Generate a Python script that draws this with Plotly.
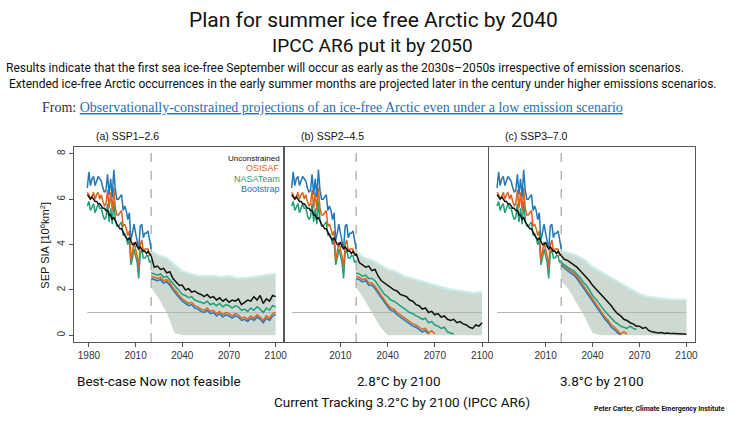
import plotly.graph_objects as go

# ---- data ----
HIST_YEARS = list(range(1979, 2021))
FUT_YEARS = list(range(2020, 2101, 2))
BAND_YEARS = list(range(2020, 2101, 5))

# observations 1979-2020 (same in every panel)
hist_bootstrap = [6.5, 7.2, 6.6, 6.9, 7.0, 6.6, 6.8, 7.0, 6.9, 6.8, 6.5, 6.3, 6.4, 7.1,
                  6.2, 6.9, 6.1, 7.3, 6.4, 6.0, 6.0, 6.1, 6.2, 5.5, 5.7, 5.5, 5.1, 5.4,
                  4.2, 4.5, 4.9, 4.5, 4.2, 3.8, 4.8, 4.9, 4.3, 4.5, 4.5, 4.6, 4.2, 3.8]
hist_osisaf = [6.3, 6.2, 6.0, 6.1, 6.3, 6.0, 6.2, 6.3, 6.0, 6.2, 5.9, 5.7, 5.8, 6.4,
               5.6, 6.3, 5.5, 6.5, 5.6, 5.3, 5.3, 5.4, 5.5, 4.8, 4.9, 4.7, 4.4, 4.6,
               3.3, 3.7, 4.1, 3.8, 3.5, 3.0, 4.0, 4.2, 3.7, 3.8, 3.8, 3.8, 3.5, 3.6]
hist_nasateam = [5.7, 5.9, 5.5, 5.7, 5.8, 5.4, 5.6, 5.8, 5.6, 5.6, 5.3, 5.1, 5.2, 5.8,
                 5.0, 5.6, 4.9, 5.9, 5.1, 4.8, 4.8, 4.9, 5.0, 4.4, 4.5, 4.3, 4.0, 4.2,
                 3.1, 3.4, 3.8, 3.5, 3.2, 2.5, 3.6, 3.8, 3.4, 3.4, 3.5, 3.5, 3.2, 3.3]
hist_unconstrained = [6.2, 6.1, 6.0, 6.1, 6.0, 5.9, 5.9, 5.8, 5.8, 5.7, 5.6, 5.6, 5.5, 5.5,
                      5.3, 5.3, 5.1, 5.2, 5.0, 4.9, 4.8, 4.7, 4.7, 4.5, 4.4, 4.3, 4.2, 4.3,
                      4.1, 4.0, 4.0, 4.1, 3.9, 3.8, 3.9, 3.8, 3.7, 3.7, 3.6, 3.7, 3.6, 3.5]

# (a) SSP1-2.6
a_unconstrained = [3.5, 3.0, 3.05, 2.9, 2.95, 2.75, 2.8, 2.5, 2.35, 2.2, 2.2, 2.0, 2.05, 1.9,
                   1.95, 1.85, 1.8, 1.7, 1.8, 1.65, 1.7, 1.55, 1.65, 1.5, 1.6, 1.45, 1.55,
                   1.5, 1.6, 1.35, 1.45, 1.55, 1.5, 1.7, 1.55, 1.75, 1.4, 1.6, 1.5, 1.75, 1.7]
a_nasateam = [2.75, 2.7, 2.65, 2.7, 2.55, 2.6, 2.45, 2.3, 2.1, 1.95, 1.8, 1.75, 1.65, 1.7,
              1.55, 1.5, 1.45, 1.4, 1.5, 1.35, 1.4, 1.3, 1.4, 1.25, 1.35, 1.3, 1.2, 1.3,
              1.25, 1.1, 1.15, 1.05, 1.2, 1.1, 1.25, 1.15, 1.0, 1.2, 1.1, 1.3, 1.25]
a_osisaf = [2.6, 2.55, 2.5, 2.55, 2.4, 2.45, 2.3, 2.1, 1.9, 1.75, 1.6, 1.5, 1.4, 1.45,
            1.3, 1.25, 1.15, 1.1, 1.2, 1.05, 1.1, 0.95, 1.05, 0.9, 1.0, 0.95, 0.85, 0.95,
            0.9, 0.75, 0.8, 0.7, 0.85, 0.75, 0.9, 0.8, 0.65, 0.85, 0.75, 0.95, 1.0]
a_bootstrap = [2.5, 2.45, 2.4, 2.45, 2.3, 2.35, 2.2, 2.0, 1.8, 1.65, 1.5, 1.4, 1.3, 1.35,
               1.2, 1.15, 1.05, 1.0, 1.1, 0.95, 1.0, 0.85, 0.95, 0.8, 0.9, 0.85, 0.75, 0.85,
               0.8, 0.65, 0.7, 0.6, 0.75, 0.65, 0.8, 0.7, 0.55, 0.75, 0.65, 0.85, 0.9]
a_band_hi = [3.7, 3.5, 3.4, 3.1, 2.8, 2.7, 2.6, 2.6, 2.6, 2.55, 2.6, 2.5, 2.5, 2.55, 2.6, 2.65, 2.7]
a_band_lo = [2.1, 1.6, 1.0, 0.1, 0, 0, 0, 0, 0, 0, 0, 0, 0, 0, 0, 0, 0]

# (b) SSP2-4.5
b_unconstrained = [3.6, 3.2, 3.1, 3.0, 3.05, 2.85, 2.9, 2.6, 2.4, 2.3, 2.2, 2.1, 2.0, 1.95,
                   1.8, 1.75, 1.7, 1.55, 1.5, 1.35, 1.3, 1.15, 1.2, 1.0, 1.05, 0.9, 0.95,
                   0.8, 0.85, 0.7, 0.65, 0.7, 0.55, 0.6, 0.5, 0.45, 0.35, 0.3, 0.45, 0.4, 0.55]
b_nasateam = [2.75, 2.7, 2.6, 2.65, 2.5, 2.5, 2.4, 2.2, 1.95, 1.8, 1.7, 1.55, 1.5, 1.4,
              1.3, 1.2, 1.1, 1.0, 0.95, 0.85, 0.8, 0.7, 0.75, 0.55, 0.6, 0.45, 0.4, 0.3,
              0.35, 0.15, 0.1, 0.05, None, None, None, None, None, None, None, None, None]
b_osisaf = [2.6, 2.55, 2.45, 2.5, 2.3, 2.3, 2.15, 1.95, 1.7, 1.5, 1.35, 1.2, 1.15, 1.0,
            0.9, 0.8, 0.7, 0.6, 0.5, 0.45, 0.35, 0.25, 0.3, 0.1, 0.2, 0.05, None, None,
            None, None, None, None, None, None, None, None, None, None, None, None, None]
b_bootstrap = [2.5, 2.45, 2.35, 2.4, 2.2, 2.2, 2.05, 1.85, 1.6, 1.4, 1.25, 1.1, 1.05, 0.9,
               0.8, 0.7, 0.6, 0.5, 0.4, 0.35, 0.25, 0.15, 0.2, 0.05, None, None, None, None,
               None, None, None, None, None, None, None, None, None, None, None, None, None]
b_band_hi = [3.7, 3.4, 3.3, 3.1, 2.9, 2.8, 2.6, 2.5, 2.4, 2.3, 2.2, 2.1, 2.0, 1.95, 1.9, 1.85, 1.9]
b_band_lo = [2.1, 1.6, 1.0, 0.4, 0, 0, 0, 0, 0, 0, 0, 0, 0, 0, 0, 0, 0]

# (c) SSP3-7.0
c_unconstrained = [3.5, 3.35, 3.3, 3.2, 3.1, 3.0, 2.85, 2.7, 2.55, 2.4, 2.2, 2.05, 1.9, 1.75,
                   1.6, 1.45, 1.3, 1.1, 0.95, 0.85, 0.7, 0.65, 0.55, 0.5, 0.4, 0.4, 0.3,
                   0.35, 0.2, 0.15, 0.12, 0.1, 0.12, 0.08, 0.1, 0.07, 0.08, 0.06, 0.05, 0.05, 0.04]
c_nasateam = [3.2, 3.1, 3.0, 2.9, 2.85, 2.7, 2.55, 2.35, 2.2, 2.0, 1.75, 1.6, 1.4, 1.25,
              1.05, 0.9, 0.75, 0.6, 0.5, 0.4, 0.35, 0.3, 0.4, 0.3, 0.25, None, None, None,
              None, None, None, None, None, None, None, None, None, None, None, None, None]
c_osisaf = [3.2, 3.05, 2.95, 2.85, 2.75, 2.6, 2.4, 2.2, 2.0, 1.8, 1.55, 1.35, 1.15, 1.0,
            0.8, 0.65, 0.45, 0.35, 0.2, 0.05, 0.15, 0.05, None, None, None, None, None, None,
            None, None, None, None, None, None, None, None, None, None, None, None, None]
c_bootstrap = [3.1, 2.95, 2.85, 2.75, 2.65, 2.5, 2.3, 2.1, 1.9, 1.7, 1.45, 1.25, 1.05, 0.9,
               0.7, 0.55, 0.35, 0.25, 0.1, 0.02, None, None, None, None, None, None, None,
               None, None, None, None, None, None, None, None, None, None, None, None, None, None]
c_band_hi = [3.7, 3.6, 3.5, 3.3, 3.0, 2.8, 2.6, 2.4, 2.2, 2.0, 1.8, 1.7, 1.65, 1.6, 1.55, 1.55, 1.55]
c_band_lo = [2.4, 2.0, 1.4, 0.8, 0.1, 0, 0, 0, 0, 0, 0, 0, 0, 0, 0, 0, 0]

panel_titles = ["(a) SSP1\u20132.6", "(b) SSP2\u20134.5", "(c) SSP3\u20137.0"]
bottom_notes = ["Best-case Now not feasible", "2.8\u00b0C by 2100", "3.8\u00b0C by 2100"]
series_names = ["Unconstrained", "OSISAF", "NASATeam", "Bootstrap"]

BLACK, ORANGE, GREEN, BLUE = "#111111", "#d9661c", "#1f9e78", "#2477b8"

panels = [
    dict(unc=a_unconstrained, osi=a_osisaf, nasa=a_nasateam, boot=a_bootstrap,
         hi=a_band_hi, lo=a_band_lo),
    dict(unc=b_unconstrained, osi=b_osisaf, nasa=b_nasateam, boot=b_bootstrap,
         hi=b_band_hi, lo=b_band_lo),
    dict(unc=c_unconstrained, osi=c_osisaf, nasa=c_nasateam, boot=c_bootstrap,
         hi=c_band_hi, lo=c_band_lo),
]

W, H = 750, 422
def px(x):
    return x / W
def py(y):
    return 1 - y / H

x_domains = [(75, 285), (287, 492), (493, 701)]
x_ranges = [(1970.7, 2104.5), (1974.6, 2103.8), (1973.9, 2105.7)]
y_dom = [py(342), py(147)]

fig = go.Figure()

for i, p in enumerate(panels):
    xa = "x" if i == 0 else f"x{i + 1}"
    ya = "y" if i == 0 else f"y{i + 1}"
    # spread band
    fig.add_trace(go.Scatter(x=BAND_YEARS, y=p["lo"], mode="lines", line=dict(width=0),
                             xaxis=xa, yaxis=ya, showlegend=False, hoverinfo="skip"))
    fig.add_trace(go.Scatter(x=BAND_YEARS, y=p["hi"], mode="lines", fill="tonexty",
                             fillcolor="rgba(198,212,201,0.85)",
                             line=dict(width=3, color="rgba(195,234,232,0.7)"),
                             xaxis=xa, yaxis=ya, showlegend=False, hoverinfo="skip"))
    # 1 million km2 reference and 2020 divider
    fig.add_trace(go.Scatter(x=[1979, 2100], y=[1, 1], mode="lines",
                             line=dict(color="#b5b5b5", width=1),
                             xaxis=xa, yaxis=ya, showlegend=False, hoverinfo="skip"))
    fig.add_trace(go.Scatter(x=[2020, 2020], y=[-0.3, 8.3], mode="lines",
                             line=dict(color="#aaaaaa", width=1.3, dash="dash"),
                             xaxis=xa, yaxis=ya, showlegend=False, hoverinfo="skip"))
    # observation-based history
    for ys, col in [(hist_nasateam, GREEN), (hist_osisaf, ORANGE),
                    (hist_bootstrap, BLUE), (hist_unconstrained, BLACK)]:
        fig.add_trace(go.Scatter(x=HIST_YEARS, y=ys, mode="lines",
                                 line=dict(color=col, width=1.5),
                                 xaxis=xa, yaxis=ya, showlegend=False))
    # projections
    for key, col in [("boot", BLUE), ("osi", ORANGE), ("nasa", GREEN), ("unc", BLACK)]:
        fig.add_trace(go.Scatter(x=FUT_YEARS, y=p[key], mode="lines",
                                 line=dict(color=col, width=1.5),
                                 xaxis=xa, yaxis=ya, showlegend=False))

axis_common = dict(showline=True, mirror=True, linecolor="#555555", linewidth=1.2,
                   showgrid=False, zeroline=False, ticks="outside", ticklen=4,
                   tickcolor="#555555", tickfont=dict(size=10, color="#333333"))

layout = dict(
    width=W, height=H,
    margin=dict(l=0, r=0, t=0, b=0),
    paper_bgcolor="white", plot_bgcolor="white",
    font=dict(family="Liberation Sans, Arial, sans-serif", color="#222222"),
    showlegend=False,
)
for i in range(3):
    sfx = "" if i == 0 else str(i + 1)
    tickvals = [1980, 2010, 2040, 2070, 2100] if i == 0 else [2010, 2040, 2070, 2100]
    layout["xaxis" + sfx] = dict(axis_common, domain=[px(x_domains[i][0]), px(x_domains[i][1])],
                                 range=list(x_ranges[i]), tickvals=tickvals,
                                 anchor="y" + sfx)
    ya = dict(axis_common, domain=y_dom, range=[-0.3, 8.3], anchor="x" + sfx)
    if i == 0:
        ya.update(tickvals=[0, 2, 4, 6, 8], tickangle=-90)
    else:
        ya.update(showticklabels=False, ticks="")
    layout["yaxis" + sfx] = ya
fig.update_layout(**layout)

ann = []
def text(x, y, s, size, xanchor="center", family=None, color="#111111", angle=0):
    f = dict(size=size, color=color)
    if family:
        f["family"] = family
    ann.append(dict(x=px(x), y=py(y), xref="paper", yref="paper", text=s, showarrow=False,
                    xanchor=xanchor, yanchor="middle", font=f, textangle=angle))

SLIDE = "Roboto, Liberation Sans, sans-serif"
text(377, 20, "Plan for summer ice free Arctic by 2040", 21, family=SLIDE)
text(376, 45, "IPCC AR6 put it by 2050", 19, family=SLIDE)
text(4, 68, "Results indicate that the first sea ice-free September will occur as early as the "
     "2030s\u20132050s irrespective of emission scenarios.", 12, xanchor="left", family=SLIDE)
text(7, 84, "Extended ice-free Arctic occurrences in the early summer months are projected later "
     "in the century under higher emissions scenarios.", 12, xanchor="left", family=SLIDE)
text(40, 107, "<span style='color:#333333'>From: </span><span style='color:#1f6fae'><u>"
     "Observationally-constrained projections of an ice-free Arctic even under a low "
     "emission scenario</u></span>", 14, xanchor="left", family="Liberation Serif, serif")

for i, t in enumerate(panel_titles):
    text([95, 301, 507][i], 136, t, 10.5, xanchor="left")

text(45, 245, "SEP SIA [10<sup>6</sup>km<sup>2</sup>]", 11, angle=-90)

for j, (name, col) in enumerate(zip(series_names, [BLACK, ORANGE, GREEN, BLUE])):
    text(284, [158, 168, 179, 189][j], name, 8 if j == 0 else 9, xanchor="right", color=col)

text(76, 381, bottom_notes[0], 13.5, xanchor="left", family=SLIDE)
text(402, 381, bottom_notes[1], 13.5, family=SLIDE)
text(607, 381, bottom_notes[2], 13.5, family=SLIDE)
text(405, 402, "Current Tracking 3.2\u00b0C by 2100 (IPCC AR6)", 13.5, family=SLIDE)
text(733, 409, "<b>Peter Carter, Climate Emergency Institute</b>", 7, xanchor="right", family=SLIDE)

fig.update_layout(annotations=ann)

# drop the browser's default body margin so the figure sits at the page corner
fig.write_html("out.html", config={"displayModeBar": False},
               post_script="document.body.style.margin='0';")
